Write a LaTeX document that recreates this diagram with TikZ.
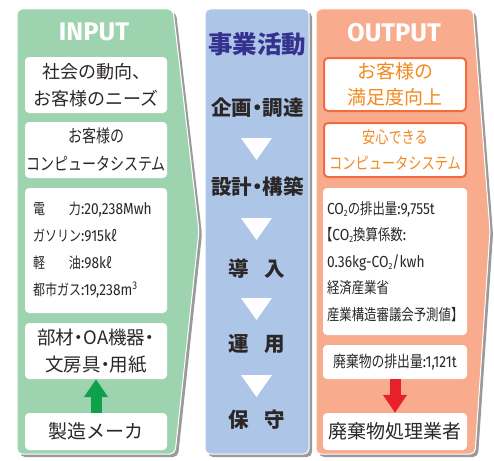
\documentclass[tikz,border=0pt]{standalone}
\usepackage{fontspec}
\usepackage{calc}
\setmainfont{Noto Sans CJK JP}
\newfontfamily\jp{Noto Sans CJK JP}
\newfontfamily\jpc[FakeStretch=0.8]{Noto Sans CJK JP}
\newfontfamily\jpcc[FakeStretch=0.8]{Noto Sans CJK JP}
\newfontfamily\latc[FakeStretch=0.86]{Fira Sans}
\newfontfamily\ttlfont{Fira Sans}
\usetikzlibrary{arrows.meta}

\definecolor{gfill}{HTML}{9DD4AF}
\definecolor{bfill}{HTML}{ADC6E8}
\definecolor{ofill}{HTML}{F9AB8D}
\definecolor{oline}{HTML}{F26C3F}
\definecolor{otext}{HTML}{F18A1F}
\definecolor{navy}{HTML}{35318E}
\definecolor{dtext}{HTML}{2B2726}
\definecolor{garrow}{HTML}{0FA04A}
\definecolor{rarrow}{HTML}{E8202A}
\definecolor{shade}{HTML}{9A9A9A}

\newcommand\nd{\makebox[0.5em][c]{・}}
\newcommand\lt[1]{{\latc\fontsize{16}{27}\selectfont #1}}
\newcommand\lowtwo{\raisebox{-0.25ex}{\fontsize{9}{9}\selectfont 2}}

\tikzset{
  wbox/.style={fill=white, rounded corners=4pt, inner sep=0pt, text=dtext, align=center},
  obox/.style={wbox, draw=oline, line width=2pt, text=otext},
  panel/.style={rounded corners=5pt, draw=white, line width=1pt},
  shadowp/.style={rounded corners=5pt, fill=shade},
  title/.style={text=white, font=\ttlfont\bfseries\fontsize{25.5}{30}\selectfont},
  step label/.style={text=dtext, font=\jp\bfseries\fontsize{20.5}{24}\selectfont},
  blockarrow/.style={line width=11pt, -{Triangle[width=23pt,length=18pt]}},
  tri/.style={fill=white}
}

\begin{document}
\begin{tikzpicture}[x=1pt,y=-1pt]
\useasboundingbox (0,0) rectangle (494,460);

% panels
\path[shadowp] (20,12) -- (176,12) -- (202,234) -- (178,457) -- (20,457) -- cycle;
\path[panel, fill=gfill] (17,9) -- (173,9) -- (199,231) -- (175,454) -- (17,454) -- cycle;
\path[shadowp] (208,12) rectangle (312,457);
\path[panel, fill=bfill] (205,9) rectangle (309,454);
\path[shadowp] (319,12) -- (476,12) -- (493,234) -- (478,457) -- (319,457) -- cycle;
\path[panel, fill=ofill] (316,9) -- (473,9) -- (490,231) -- (475,454) -- (316,454) -- cycle;

% INPUT
\node[title] (intitle) at (94,32) {INPUT};
\node[wbox, minimum width=142pt, minimum height=56pt, font=\jp\fontsize{18}{27}\selectfont] (trend) at (96,85) {社会の動向、\\お客様のニーズ};
\node[wbox, minimum width=142pt, minimum height=56pt, font=\jpc\fontsize{17.5}{28}\selectfont] (custsys) at (96,150) {お客様の\\コンピュータシステム};
\node[wbox, minimum width=142pt, minimum height=125pt, text width=126pt, align=left, font=\jpcc\fontsize{15}{27}\selectfont] (energy) at (96,250.5) {%
\makebox[\widthof{ガソリン}][s]{電\hfill 力}\lt{:20,238Mwh}\\
ガソリン\lt{:915k}ℓ\\
\makebox[\widthof{ガソリン}][s]{軽\hfill 油}\lt{:98k}ℓ\\
都市ガス\lt{:19,238m\textsuperscript{3}}};
\node[wbox, minimum width=142pt, minimum height=56pt, font=\jp\fontsize{18.5}{27}\selectfont] (parts) at (96,351) {部材\nd OA機器\nd\\文房具\nd 用紙};
\node[wbox, minimum width=142pt, minimum height=37pt, font=\jp\fontsize{19}{22}\selectfont] (maker) at (96,431.5) {製造メーカ};
\draw[blockarrow, garrow] (maker.north) -- (parts.south);

% business
\node[text=navy, font=\jp\bfseries\fontsize{24.5}{28}\selectfont] (biz) at (257,44) {事業活動};
\node[step label] (plan) at (257.5,107.5) {企画\nd 調達};
\node[step label] (design) at (257.5,186.5) {設計\nd 構築};
\node[step label] (intro) at (256.5,268.5) {導\hspace{0.75em}入};
\node[step label] (oper) at (256.5,344) {運\hspace{0.75em}用};
\node[step label] (maint) at (256.5,420) {保\hspace{0.75em}守};
\path[tri] (241,138) -- (272,138) -- (256.5,160) -- cycle;
\path[tri] (241,218) -- (272,218) -- (256.5,240) -- cycle;
\path[tri] (241,298) -- (272,298) -- (256.5,320) -- cycle;
\path[tri] (241,375) -- (272,375) -- (256.5,397) -- cycle;

% OUTPUT
\node[title] (outtitle) at (394,33) {OUTPUT};
\node[obox, minimum width=142pt, minimum height=53pt, font=\jp\fontsize{19}{26}\selectfont] (satis) at (395,84.5) {お客様の\\満足度向上};
\node[obox, minimum width=142pt, minimum height=54pt, font=\jpc\fontsize{16.5}{26}\selectfont] (safe) at (395,150) {安心できる\\コンピュータシステム};
\node[wbox, minimum width=144pt, minimum height=147pt, text width=136pt, align=left, font=\jpcc\fontsize{15.5}{26.5}\selectfont] (co2) at (395,261.5) {%
\lt{CO\lowtwo}の排出量\lt{:9,755t}\\
\hspace*{-0.45em}【\lt{CO\lowtwo}換算係数\lt{:}\\
\lt{0.36kg-CO\lowtwo/kwh}\\
経済産業省\\
産業構造審議会予測値】};
\node[wbox, minimum width=144pt, minimum height=34pt, font=\jpcc\fontsize{16}{20}\selectfont] (waste) at (395,362) {廃棄物の排出量\lt{:1,121t}};
\node[wbox, minimum width=144pt, minimum height=37pt, font=\jp\fontsize{19}{22}\selectfont] (disposal) at (395,431.5) {廃棄物処理業者};
\draw[blockarrow, rarrow] (waste.south) -- (disposal.north);
\end{tikzpicture}
\end{document}
